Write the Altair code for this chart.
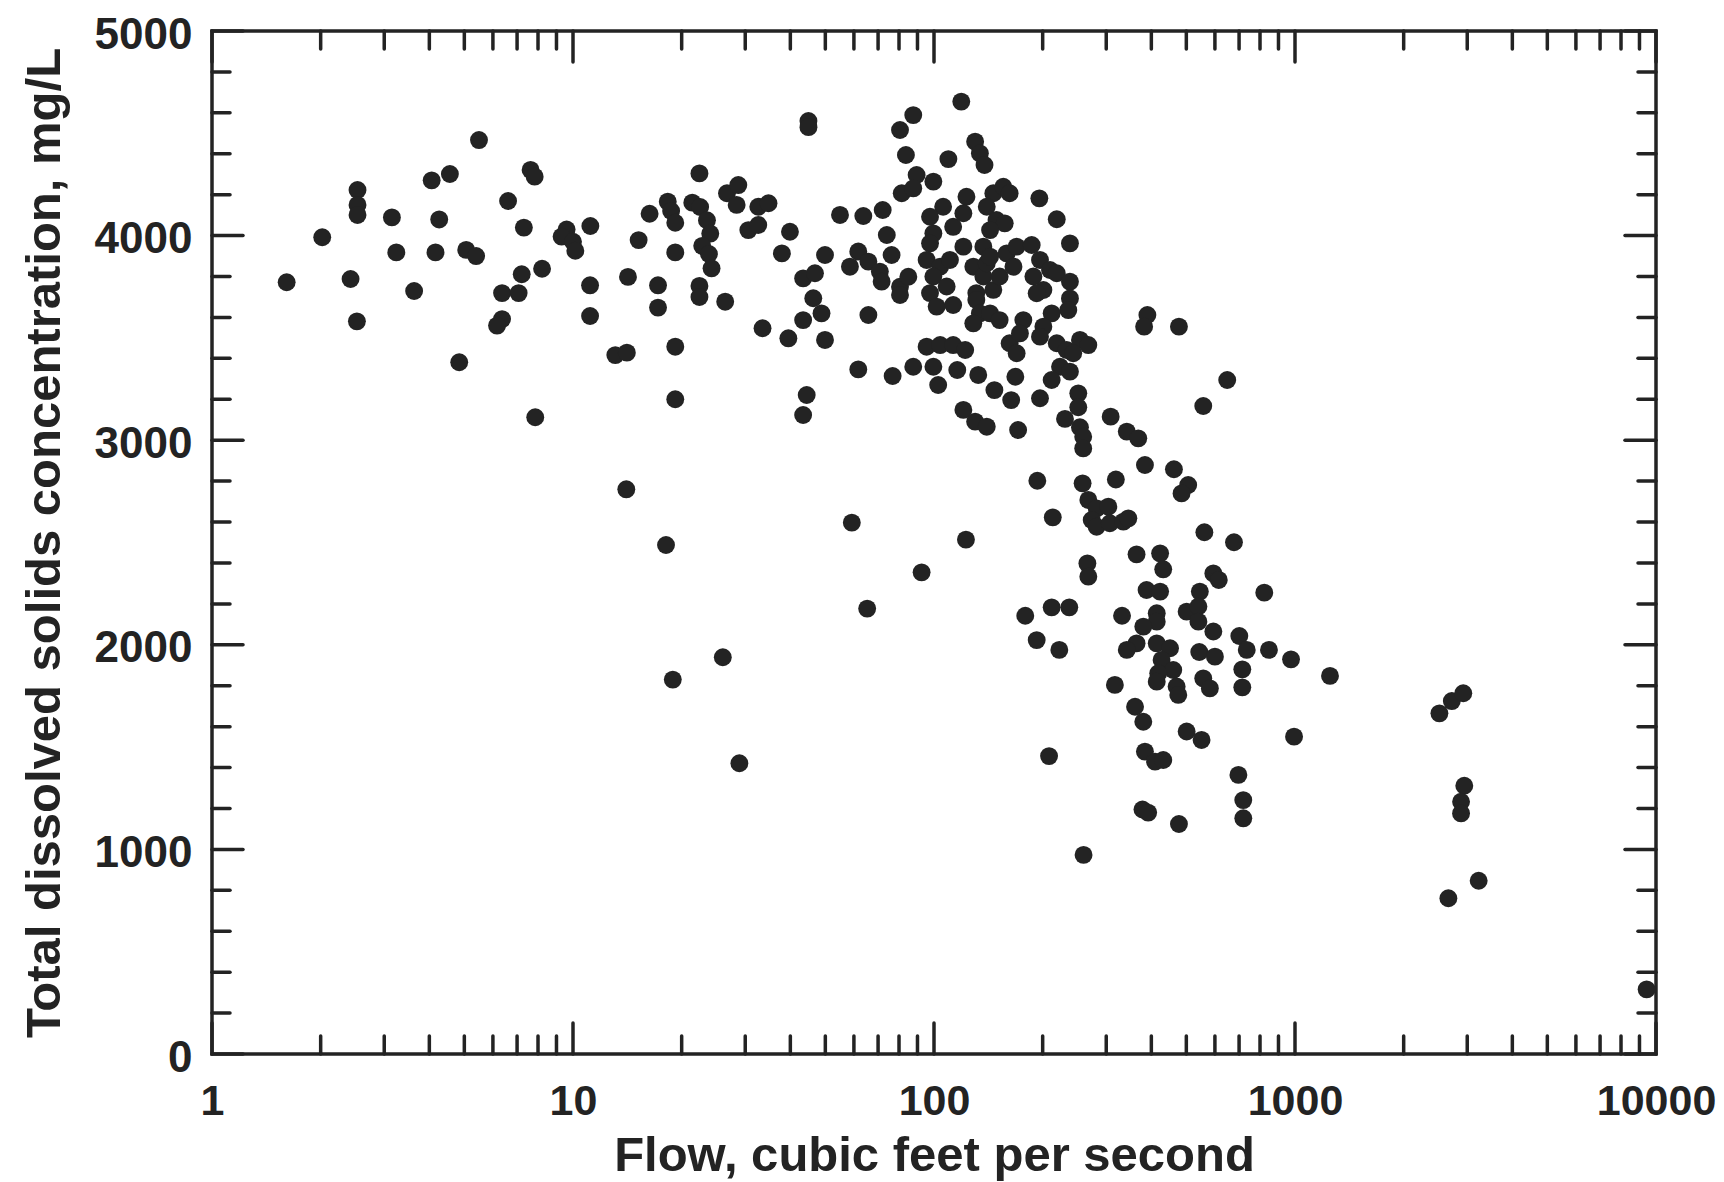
import altair as alt
import pandas as pd

# Flow (cfs) and total dissolved solids (mg/L)
flow = [
    1.61, 2.02, 2.53, 2.53, 2.53, 2.42, 2.52, 3.15, 3.24, 3.63, 4.06, 4.56, 4.26, 4.16, 4.84,
    5.49, 5.06, 5.39, 7.63, 7.83, 6.61, 7.31, 7.21, 8.21, 6.36, 7.07, 6.36, 6.16, 7.86, 9.6,
    9.3, 10.0, 10.15, 11.17, 11.15, 11.15, 13.1, 14.1, 14.2, 15.2, 14.05, 16.3, 18.3, 18.7, 19.2,
    21.4, 19.2, 17.2, 17.2, 19.2, 19.2, 22.4, 22.5, 23.5, 24.0, 22.8, 23.8, 24.2, 22.4, 22.4,
    18.1, 26.0, 18.9, 28.9, 59.2, 65.3,
    26.4, 26.7, 28.7, 28.4, 32.6, 34.8, 30.6, 32.6, 39.9, 37.9, 44.9, 44.9, 49.9, 43.4, 46.8,
    46.3, 48.8, 43.4, 33.5, 39.5, 49.9, 44.4, 43.4, 54.9, 63.7, 72.1, 61.7, 58.5, 65.8, 70.8,
    71.6, 76.3, 74.0, 80.5, 84.9, 80.5, 65.8, 61.7, 76.8, 87.6, 80.5, 83.6, 119, 109.6, 130,
    134, 138, 89.5, 99.6, 81.4, 87.6, 106, 97.5, 113, 99.6, 123, 120.6, 97.5, 95.4, 104,
    110.7, 99.6, 108.4, 97.5, 101.7, 120.6, 113, 128.5, 137, 131, 146, 152, 140, 159, 166,
    169.4, 146, 155.6, 162, 140, 149, 157, 143, 137, 143, 131, 134, 128.5, 143, 152,
    162, 169.4, 168, 95.4, 104, 113, 122, 87.6, 99.6, 102.7, 116, 132.6, 147, 163.6, 120.6,
    130, 140, 171,
    195.8, 218.8, 238, 186.5, 196.6, 209.6, 218.8, 238, 188.5, 200.9, 192.5, 238, 235.5, 211.8, 200.9,
    176.8, 173, 196.6, 218.8, 233, 253.7, 267.6, 243, 223.4, 238, 211.8, 196.6, 251, 251, 230.6,
    253.7, 259, 259, 308.6, 342, 368, 384, 462, 390, 382, 477, 649, 557,
    92.4, 122.6, 193.3, 213.3, 258, 267.6, 282.2, 304, 273.4, 282.2, 307, 334.6, 345.4, 319, 506,
    485, 561, 266, 267.6, 364, 423, 431.5, 594, 615, 545, 388, 423, 179, 211.8, 237,
    192.5, 222.4, 331.8, 414, 414, 380, 364, 342, 501, 540, 540, 594, 414, 450.6, 427,
    460, 418, 414, 470, 475, 543, 600, 557, 581, 317, 360.5, 380, 208.3, 384, 409.6,
    431.5, 501, 551,
    677.6, 822, 701, 735, 847, 975, 714.5, 714.5, 1250, 994, 697, 719, 719, 378, 392,
    477, 259.6, 2512, 2719, 2925, 2944, 2884, 2884, 3227, 2660, 9420,
]
tds = [
    3772, 3992, 4223, 4150, 4101, 3788, 3581, 4089, 3918, 3729, 4270, 4301, 4079, 3918, 3381,
    4467, 3930, 3900, 4321, 4288, 4169, 4039, 3811, 3838, 3719, 3719, 3592, 3560, 3112, 4030,
    3995, 3970, 3926, 4047, 3757, 3607, 3416, 3428, 3798, 3978, 2760, 4107, 4166, 4120, 4063,
    4161, 3918, 3757, 3648, 3457, 3200, 4304, 4140, 4075, 4010, 3950, 3910, 3840, 3754, 3700,
    2488, 1939, 1830, 1421, 2597, 2177,
    3677, 4207, 4247, 4150, 4141, 4158, 4027, 4052, 4019, 3913, 4560, 4530, 3905, 3791, 3816,
    3694, 3620, 3587, 3547, 3498, 3490, 3221, 3123, 4101, 4096, 4125, 3922, 3848, 3873, 3824,
    3775, 3905, 4003, 3750, 3799, 3710, 3612, 3346, 3314, 4589, 4516, 4394, 4655, 4374, 4459,
    4402, 4345, 4296, 4264, 4207, 4231, 4141, 4092, 4043, 4011, 4190, 4109, 3962, 3881, 3848,
    3881, 3800, 3751, 3719, 3653, 3946, 3661, 3848, 3800, 3719, 3735, 3800, 3865, 3913, 3848,
    3946, 4207, 4239, 4207, 4141, 4076, 4060, 4027, 3946, 3897, 3685, 3620, 3571, 3620, 3587,
    3474, 3425, 3310, 3457, 3465, 3465, 3441, 3359, 3359, 3270, 3343, 3319, 3245, 3196, 3148,
    3091, 3066, 3050,
    4182, 4080, 3962, 3954, 3881, 3832, 3816, 3775, 3800, 3734, 3718, 3693, 3636, 3620, 3555,
    3587, 3522, 3506, 3474, 3441, 3490, 3465, 3425, 3359, 3335, 3294, 3205, 3229, 3161, 3104,
    3063, 3017, 2960, 3115, 3042, 3009, 2879, 2858, 3612, 3555, 3555, 3294, 3167,
    2354, 2514, 2802, 2623, 2789, 2708, 2667, 2675, 2610, 2577, 2594, 2602, 2618, 2808, 2781,
    2740, 2550, 2398, 2333, 2442, 2447, 2369, 2349, 2317, 2260, 2268, 2260, 2142, 2183, 2183,
    2023, 1975, 2142, 2154, 2113, 2089, 2007, 1975, 2162, 2187, 2113, 2065, 2007, 1983, 1926,
    1877, 1861, 1820, 1796, 1755, 1965, 1942, 1836, 1787, 1804, 1697, 1624, 1456, 1478, 1429,
    1437, 1576, 1535,
    2501, 2255, 2043, 1975, 1975, 1929, 1880, 1792, 1848, 1551, 1364, 1241, 1152, 1195, 1180,
    1124, 973, 1665, 1725, 1763, 1311, 1233, 1176, 847, 761, 316,
]

# Axis tick positions and labels
x_major = [1, 10, 100, 1000, 10000]
x_minor = [m * 10 ** k for k in range(4) for m in range(2, 10)]
y_major = [0, 1000, 2000, 3000, 4000, 5000]
y_minor = [v for v in range(200, 5000, 200) if v % 1000 != 0]

x_title = "Flow, cubic feet per second"
y_title = "Total dissolved solids concentration, mg/L"

W, H = 1444, 1023
INK = "#232323"
FONT = "Liberation Sans"
MINOR, MAJOR = 18, 31

df = pd.DataFrame({"flow": flow, "tds": tds})
xscale = alt.Scale(type="log", domain=[1, 10000], nice=False)
yscale = alt.Scale(domain=[0, 5000], nice=False)

xaxis = alt.Axis(
    values=x_major, format="d", ticks=False, domain=False, grid=False,
    labelFont=FONT, labelFontWeight="bold", labelFontSize=43, labelColor=INK,
    labelPadding=26, labelFlush=False, labelOverlap=False, labelBound=False,
    title=x_title, titleFont=FONT, titleFontWeight="bold", titleFontSize=49,
    titleColor=INK, titleX=W / 2, titleY=116, titleBaseline="alphabetic",
    titleAlign="center")
yaxis = alt.Axis(
    values=y_major, format="d", ticks=False, domain=False, grid=False,
    labelFont=FONT, labelFontWeight="bold", labelFontSize=44, labelColor=INK,
    labelPadding=20, labelFlush=False, labelOverlap=False,
    labelBaseline="alphabetic", labelOffset=17,
    title=y_title, titleFont=FONT, titleFontWeight="bold", titleFontSize=49,
    titleColor=INK, titleX=-153, titleY=H / 2, titleAngle=270,
    titleBaseline="alphabetic", titleAlign="center")

points = alt.Chart(df).mark_circle(size=320, color=INK, opacity=1).encode(
    x=alt.X("flow:Q", scale=xscale, axis=xaxis),
    y=alt.Y("tds:Q", scale=yscale, axis=yaxis),
)

rule_style = dict(color=INK, strokeWidth=3.5, strokeCap="round")


def xticks(values, length):
    d = pd.DataFrame({"flow": values})
    base = alt.Chart(d).mark_rule(**rule_style)
    enc_x = alt.X("flow:Q", scale=xscale, axis=xaxis)
    bottom = base.encode(x=enc_x, y=alt.value(H), y2=alt.value(H - length))
    top = base.encode(x=enc_x, y=alt.value(0), y2=alt.value(length))
    return [bottom, top]


def yticks(values, length):
    d = pd.DataFrame({"tds": values})
    base = alt.Chart(d).mark_rule(**rule_style)
    enc_y = alt.Y("tds:Q", scale=yscale, axis=yaxis)
    left = base.encode(y=enc_y, x=alt.value(0), x2=alt.value(length))
    right = base.encode(y=enc_y, x=alt.value(W), x2=alt.value(W - length))
    return [left, right]


layers = ([points] + xticks(x_minor, MINOR) + xticks(x_major, MAJOR)
          + yticks(y_minor, MINOR) + yticks(y_major, MAJOR))

chart = alt.layer(*layers).properties(
    width=W, height=H,
    padding={"left": 204, "top": 23, "right": 60, "bottom": 128},
    autosize=alt.AutoSizeParams(type="none"),
    background="white",
).configure_view(stroke=INK, strokeWidth=3.5)

chart.save("out.html", embed_options={"renderer": "svg", "actions": False})
